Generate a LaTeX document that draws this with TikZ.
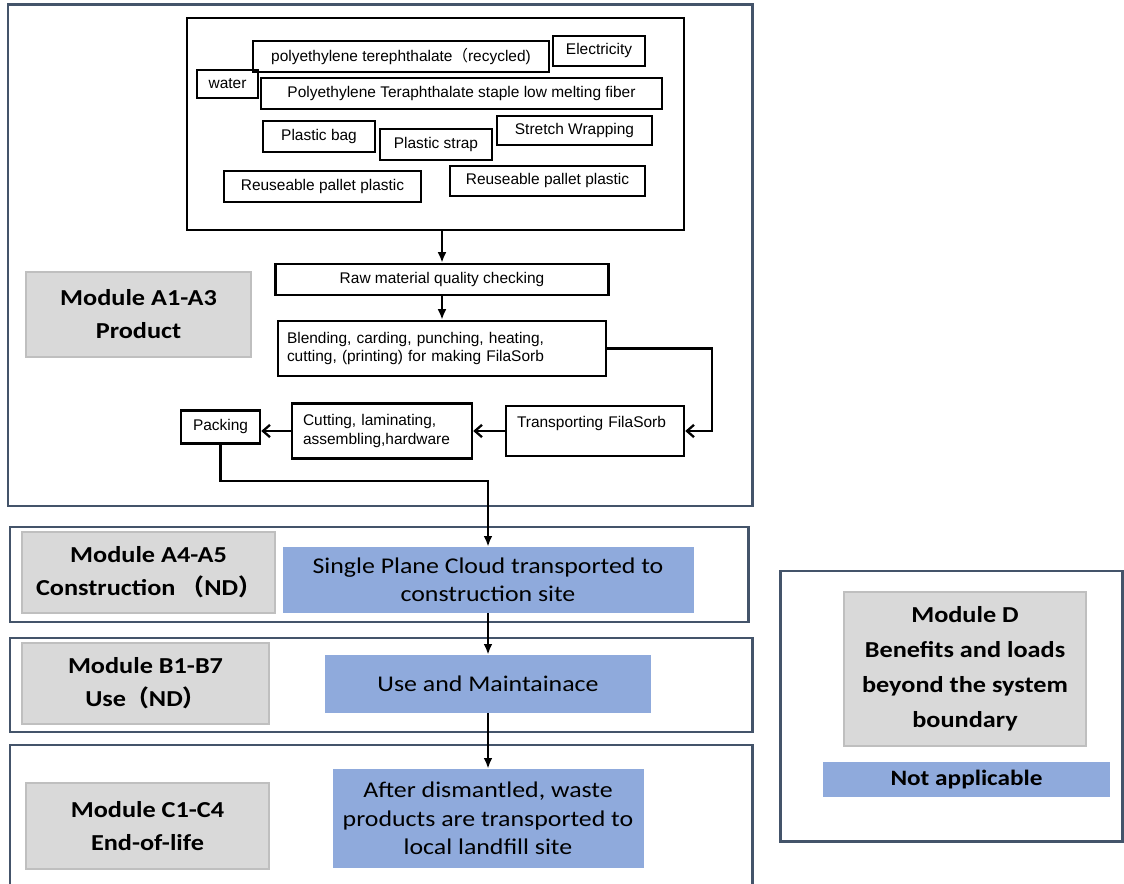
\documentclass[tikz,border=0pt]{standalone}
\usepackage{fontspec}
\setmainfont{Liberation Sans}
\newfontfamily\calfont{Carlito}[FakeStretch=1.15]
\newfontfamily\cjk{Noto Sans CJK SC}
\usetikzlibrary{arrows.meta,calc,positioning}
\definecolor{framegray}{RGB}{68,84,106}
\definecolor{lblfill}{RGB}{217,217,217}
\definecolor{lblline}{RGB}{191,191,191}
\definecolor{stepblue}{RGB}{143,170,220}

\tikzset{
  sz/.style 2 args={minimum width=#1*0.02cm, minimum height=#2*0.02cm},
  lpad/.style={text width=#1*0.02cm, align=left},
  frame/.style={draw=framegray, line width=1.7pt},
  inbox/.style={draw, line width=1.4pt, inner sep=0pt, font=\fontsize{8.8}{10.5}\selectfont},
  modlabel/.style={draw=lblline, fill=lblfill, line width=1.2pt, inner sep=0pt, align=center, font=\calfont\bfseries\fontsize{13}{18.7}\selectfont},
  stage/.style={fill=stepblue, inner sep=0pt, align=center, font=\calfont\fontsize{12.8}{16.2}\selectfont},
  flow/.style={-{Latex[length=6pt,width=5pt]}, line width=1.3pt},
  barb/.style={-{Straight Barb[length=4pt,width=7pt]}, line width=1.3pt},
}

\begin{document}
\begin{tikzpicture}[x=0.02cm,y=-0.02cm]
\useasboundingbox (0,0) rectangle (1124,884);
% module frames
\draw[frame] (8,5) rectangle (752,506);
\draw[frame] (10,527) rectangle (748,622);
\draw[frame] (10,638) rectangle (752,732);
\draw[frame] (10,884) -- (10,745) -- (752,745) -- (752,884);
\draw[frame] (780,571) rectangle (1122,841);
% inputs
\node[inbox, sz={497}{212}] (inputs) at (435.5,124) {};
\node[inbox, sz={296}{31}] (pet) at (401,56.5) {polyethylene terephthalate{\cjk （}recycled)};
\node[inbox, sz={92}{30}] (elec) at (599,51) {Electricity};
\node[inbox, sz={61}{28}] (water) at (227.5,84) {water};
\node[inbox, sz={401}{31}] (fiber) at (461.5,93.5) {Polyethylene Teraphthalate staple low melting fiber};
\node[inbox, sz={112}{31}] (bag) at (319,136.5) {Plastic bag};
\node[inbox, sz={112}{31}] (strap) at (436,144.5) {Plastic strap};
\node[inbox, sz={155}{29}] (wrap) at (574.5,130.5) {Stretch Wrapping};
\node[inbox, sz={197}{31}] (palletl) at (322.5,186.5) {Reuseable pallet plastic};
\node[inbox, sz={195}{30}] (palletr) at (547.5,181) {Reuseable pallet plastic};
% A1-A3 process
\node[inbox, sz={333}{31}] (raw) at (442,279.5) {Raw material quality checking};
\node[inbox, sz={328}{55}, lpad=310] (blend) at (442,348.5) {Blending, carding, punching, heating,\\cutting, (printing) for making FilaSorb};
\node[inbox, sz={178}{50}, lpad=156] (trans) at (595,431) {Transporting FilaSorb\\~};
\node[inbox, sz={180}{55}, lpad=158] (cut) at (382,431) {Cutting, laminating,\\assembling,hardware};
\node[inbox, sz={79}{33}] (pack) at (220.5,427) {Packing};
% module labels
\node[modlabel, sz={225}{85}] (moda) at (138.5,314.5) {Module A1-A3\\Product};
\node[modlabel, sz={253}{81}] (modaf) at (148.5,572.5) {Module A4-A5\\Construction {\cjk （}ND{\cjk ）}};
\node[modlabel, sz={247}{81}] (modb) at (145.5,683.5) {Module B1-B7\\Use{\cjk （}ND{\cjk ）}};
\node[modlabel, sz={243}{86}] (modc) at (147.5,826) {Module C1-C4\\End-of-life};
\node[modlabel, sz={242}{154}, font=\calfont\bfseries\fontsize{13}{20}\selectfont] (modd) at (965,669) {Module D\\Benefits and loads\\beyond the system\\boundary};
% stages
\node[stage, sz={411}{66}] (cloud) at (488,580) {Single Plane Cloud transported to\\construction site};
\node[stage, sz={326}{58}] (use) at (488,684) {Use and Maintainace};
\node[stage, sz={311}{99}] (eol) at (488,818.5) {After dismantled, waste\\products are transported to\\local landfill site};
\node[stage, sz={287}{35}, font=\calfont\bfseries\fontsize{12.5}{15}\selectfont] (na) at (966.5,779.5) {Not applicable};
% arrows
\draw[flow] (raw.north |- inputs.south) -- (raw.north);
\draw[flow] (raw.south) -- (blend.north);
\draw[barb] (blend.east) -- ++(105,0) |- (trans.east);
\draw[barb] (trans.west) -- (cut.east);
\draw[barb] (cut.west) -- (cut.west -| pack.east);
\draw[flow] (pack.south) -- ++(0,36) -| (cloud.north);
\draw[flow] (cloud.south) -- (use.north);
\draw[flow] (use.south) -- (eol.north);
\end{tikzpicture}
\end{document}
